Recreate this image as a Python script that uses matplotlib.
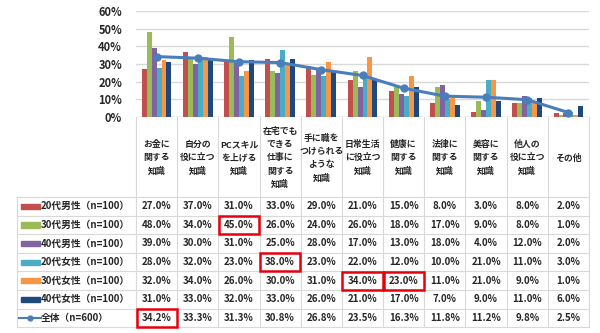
import matplotlib
matplotlib.use('Agg')
import matplotlib.pyplot as plt
from matplotlib.patches import Rectangle

plt.rcParams['font.family'] = ['Noto Sans CJK JP', 'DejaVu Sans']

# ---- data ----
categories = [
    "お金に\n関する\n知識",
    "自分の\n役に立つ\n知識",
    "PCスキル\nを上げる\n知識",
    "在宅でも\nできる\n仕事に\n関する\n知識",
    "手に職を\nつけられる\nような\n知識",
    "日常生活\nに役立つ\n知識",
    "健康に\n関する\n知識",
    "法律に\n関する\n知識",
    "美容に\n関する\n知識",
    "他人の\n役に立つ\n知識",
    "その他",
]
series_names = [
    "20代男性（n=100）",
    "30代男性（n=100）",
    "40代男性（n=100）",
    "20代女性（n=100）",
    "30代女性（n=100）",
    "40代女性（n=100）",
]
m20 = [27.0, 37.0, 31.0, 33.0, 29.0, 21.0, 15.0, 8.0, 3.0, 8.0, 2.0]
m30 = [48.0, 34.0, 45.0, 26.0, 24.0, 26.0, 18.0, 17.0, 9.0, 8.0, 1.0]
m40 = [39.0, 30.0, 31.0, 25.0, 28.0, 17.0, 13.0, 18.0, 4.0, 12.0, 2.0]
f20 = [28.0, 32.0, 23.0, 38.0, 23.0, 22.0, 12.0, 10.0, 21.0, 11.0, 3.0]
f30 = [32.0, 34.0, 26.0, 30.0, 31.0, 34.0, 23.0, 11.0, 21.0, 9.0, 1.0]
f40 = [31.0, 33.0, 32.0, 33.0, 26.0, 21.0, 17.0, 7.0, 9.0, 11.0, 6.0]
total_name = "全体（n=600）"
total = [34.2, 33.3, 31.3, 30.8, 26.8, 23.5, 16.3, 11.8, 11.2, 9.8, 2.5]
yticks = [0, 10, 20, 30, 40, 50, 60]
# highlighted cells: (row, column), row 6 = 全体
highlights = [(1, 2), (3, 3), (4, 5), (4, 6), (6, 0)]

series = [m20, m30, m40, f20, f30, f40]
colors = ['#C0504D', '#9BBB59', '#8064A2', '#4BACC6', '#F79646', '#1F497D']
line_color = '#4A7EBB'
grid_color = '#D9D9D9'
text_color = '#262626'

W, H = 600, 333
left, right = 136, 589
y0, y60 = 117, 11
col_w = (right - left) / len(categories)
tab_top, row_h = 197, 18.6

fig = plt.figure(figsize=(W / 100, H / 100), dpi=100)

# ---- bar chart ----
ax = fig.add_axes([left / W, 1 - y0 / H, (right - left) / W, (y0 - y60) / H])
n = len(series)
bw = 0.12
x = range(len(categories))
for i, (vals, c) in enumerate(zip(series, colors)):
    ax.bar([k + (i - (n - 1) / 2) * bw for k in x], [v / 100 for v in vals],
           width=bw, color=c, zorder=2)
ax.plot(list(x), [v / 100 for v in total], color=line_color, lw=2.2,
        marker='o', ms=5, zorder=3)
ax.set_xlim(-0.5, len(categories) - 0.5)
ax.set_ylim(0, 0.6)
ax.set_yticks([t / 100 for t in yticks])
ax.set_yticklabels([f"{t}%" for t in yticks], fontsize=8, fontweight='bold',
                   color=text_color)
ax.set_xticks([])
ax.grid(axis='y', color=grid_color, lw=1, zorder=0)
ax.tick_params(axis='y', length=0, pad=10)
for s in ax.spines.values():
    s.set_visible(False)
ax.axhline(0, color=grid_color, lw=1, zorder=1)

# ---- data table ----
tax = fig.add_axes([0, 0, 1, 1], zorder=-1)
tax.set_xlim(0, W)
tax.set_ylim(H, 0)
tax.axis('off')

n_rows = len(series) + 1
tab_bot = tab_top + n_rows * row_h
tab_left = 17
for j in range(len(categories) + 1):
    xe = left + j * col_w
    tax.plot([xe, xe], [y0, tab_bot], color=grid_color, lw=0.8)
tax.plot([tab_left, tab_left], [tab_top, tab_bot], color=grid_color, lw=0.8)
for r in range(n_rows + 1):
    yy = tab_top + r * row_h
    tax.plot([tab_left, right], [yy, yy], color=grid_color, lw=0.8)

for j, cat in enumerate(categories):
    tax.text(left + (j + 0.5) * col_w, (y0 + tab_top) / 2 + 1, cat, ha='center',
             va='center', fontsize=6.4, fontweight='bold', color=text_color,
             linespacing=1.6)

rows = series + [total]
names = series_names + [total_name]
for r, (vals, name) in enumerate(zip(rows, names)):
    yc = tab_top + (r + 0.5) * row_h
    if r < len(series):
        tax.add_patch(Rectangle((21, yc - 2.6), 19, 5.2, color=colors[r]))
    else:
        tax.plot([19, 41], [yc, yc], color=line_color, lw=1.5)
        tax.plot([30], [yc], marker='o', ms=3.5, color=line_color)
    tax.text(41, yc, name, ha='left', va='center', fontsize=7,
             fontweight='bold', color=text_color)
    for j, v in enumerate(vals):
        tax.text(left + (j + 0.5) * col_w, yc, f"{v:.1f}%", ha='center',
                 va='center', fontsize=7, fontweight='bold', color=text_color)

for r, j in highlights:
    tax.add_patch(Rectangle((left + j * col_w + 0.5, tab_top + r * row_h + 0.5),
                            col_w - 1, row_h - 1, fill=False,
                            edgecolor='#E8000B', lw=1.8, zorder=5))

fig.savefig('out.png', dpi=100, facecolor='white')
